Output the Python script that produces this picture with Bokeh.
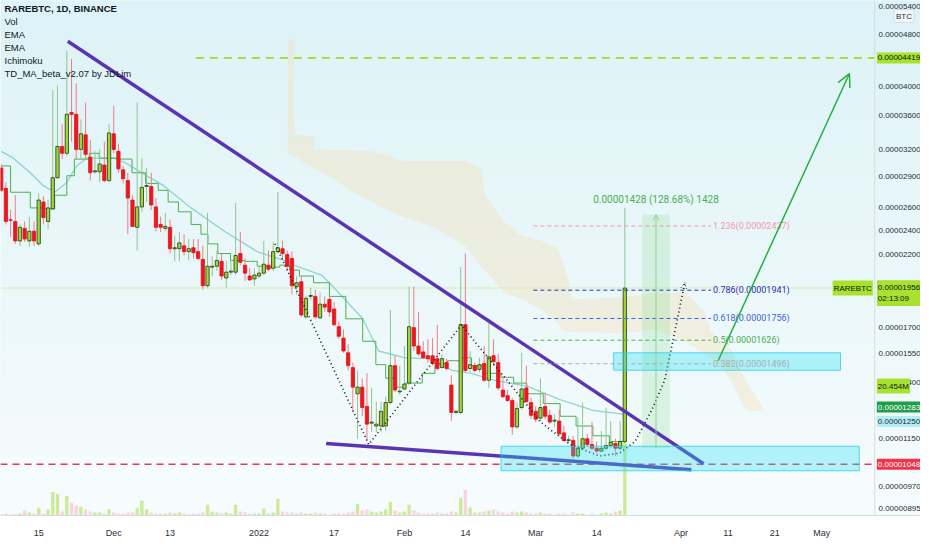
import numpy as np
import pandas as pd
from bokeh.plotting import figure
from bokeh.models import (Range1d, FixedTicker, CustomJSTickFormatter, LinearScale,
                          Label, Span, Arrow, OpenHead, ColumnDataSource)
from bokeh.embed import file_html
from bokeh.resources import INLINE
from bokeh.core.properties import value

SAT = 1e-8
START = "2021-11-07"

# ---------------- candles (satoshi) ----------------
open_sat = [2993, 2784, 2490, 2476, 2311, 2416, 2311, 2392, 2287, 2653, 2476, 2589, 2891, 3229, 3152, 3643,
            3618, 3196, 3365, 3109, 2952, 2952, 3024, 2862, 3377, 3174, 2973, 2862, 2671, 2425, 2607, 2803,
            2803, 2607, 2450, 2416, 2425, 2248, 2248, 2271, 2225, 2256, 2225, 2165, 1972, 2106, 2113, 2150,
            2027, 2069, 2069, 2210, 2121, 2041, 2020, 2041, 2062, 2121, 2098, 2225, 2248, 2202, 2172, 1966,
            2000, 1766, 1899, 1899, 1760, 1847, 1879, 1816, 1706, 1638, 1555, 1476, 1345, 1377, 1286, 1212,
            1200, 1200, 1200, 1304, 1486, 1354, 1368, 1397, 1700, 1593, 1560, 1539, 1539, 1523, 1476, 1502,
            1387, 1259, 1259, 1718, 1471, 1486, 1466, 1497, 1411, 1539, 1502, 1363, 1336, 1313, 1196, 1281,
            1373, 1304, 1264, 1234, 1286, 1246, 1221, 1221, 1171, 1140, 1140, 1079, 1109, 1147, 1124, 1109,
            1098, 1109, 1120, 1128, 1109, 1136]
high_sat = [3035, 2843, 2580, 2717, 2450, 2476, 2519, 2476, 2736, 2708, 2671, 3944, 4012, 3496, 4526, 4404,
            4040, 3556, 3771, 3308, 3174, 3196, 3285, 3496, 3732, 3262, 3014, 2942, 2717, 3771, 3098, 2993,
            2942, 2690, 2519, 2553, 2493, 2351, 2384, 2367, 2327, 2327, 2327, 2271, 2553, 2187, 2233, 2210,
            2157, 2150, 2643, 2384, 2172, 2098, 2098, 2113, 2311, 2233, 2303, 2746, 2311, 2233, 2225, 2041,
            2041, 1905, 1959, 1945, 1925, 1899, 1899, 1860, 1736, 1689, 1604, 1502, 1461, 1421, 1446, 1373,
            1308, 1308, 1331, 1810, 1539, 1486, 1593, 1966, 1966, 1797, 1620, 1632, 1638, 1718, 1549, 1523,
            1436, 1272, 2106, 2210, 1565, 1502, 1528, 1593, 1754, 1632, 1549, 1421, 1363, 1326, 1304, 1555,
            1486, 1326, 1286, 1421, 1349, 1272, 1251, 1272, 1200, 1159, 1159, 1238, 1304, 1167, 1217, 1136,
            1179, 1281, 1221, 1147, 1221, 2598]
low_sat = [2746, 2450, 2343, 2287, 2271, 2303, 2264, 2271, 2271, 2450, 2408, 2580, 2881, 3088, 3119, 3285,
           3088, 3088, 3098, 2862, 2932, 2843, 2843, 2843, 3152, 2942, 2833, 2367, 2425, 2233, 2562, 2653,
           2580, 2392, 2384, 2392, 2210, 2150, 2150, 2195, 2157, 2172, 2157, 1945, 1959, 2041, 2077, 2013,
           1959, 2048, 2048, 2121, 2006, 2006, 1972, 2027, 2048, 2077, 2077, 2210, 2172, 2077, 1912, 1912,
           1766, 1754, 1873, 1754, 1754, 1797, 1766, 1706, 1632, 1555, 1461, 1259, 1147, 1242, 1136, 1175,
           1175, 1175, 1179, 1295, 1354, 1340, 1363, 1387, 1565, 1539, 1523, 1502, 1486, 1461, 1471, 1461,
           1221, 1251, 1251, 1451, 1451, 1451, 1451, 1402, 1373, 1486, 1363, 1326, 1308, 1163, 1188, 1272,
           1304, 1229, 1217, 1221, 1229, 1208, 1196, 1159, 1136, 1128, 1071, 1071, 1101, 1116, 1101, 1090,
           1094, 1101, 1109, 1079, 1101, 1128]
close_sat = [2765, 2476, 2486, 2311, 2425, 2327, 2392, 2311, 2671, 2510, 2598, 2891, 3229, 3152, 3618, 3618,
             3196, 3377, 3141, 2942, 2962, 3035, 2862, 3388, 3196, 2983, 2881, 2690, 2433, 2607, 2794, 2813,
             2625, 2425, 2425, 2433, 2248, 2256, 2295, 2225, 2248, 2217, 2172, 1972, 2113, 2113, 2157, 2041,
             2069, 2077, 2195, 2143, 2062, 2013, 2048, 2062, 2128, 2091, 2225, 2256, 2210, 2113, 1972, 1993,
             1778, 1886, 1905, 1766, 1847, 1828, 1797, 1718, 1649, 1565, 1486, 1377, 1377, 1281, 1208, 1217,
             1208, 1264, 1304, 1486, 1363, 1358, 1392, 1706, 1593, 1549, 1528, 1523, 1497, 1471, 1523, 1471,
             1259, 1264, 1718, 1461, 1491, 1461, 1491, 1411, 1533, 1507, 1373, 1331, 1313, 1196, 1277, 1368,
             1308, 1246, 1229, 1281, 1242, 1217, 1225, 1167, 1140, 1143, 1079, 1109, 1147, 1124, 1109, 1098,
             1109, 1120, 1132, 1109, 1136, 1956]
volume_m = [0.23, 0.31, 0.16, 0.23, 0.31, 0.78, 0.47, 0.31, 1.24, 0.31, 0.93, 3.72, 3.41, 0.62, 3.10, 2.02,
            1.55, 1.40, 0.93, 0.62, 0.47, 0.47, 0.31, 0.93, 0.47, 0.31, 0.31, 0.47, 0.47, 1.24, 2.33, 0.93,
            0.47, 0.31, 0.31, 0.31, 0.47, 0.31, 0.47, 0.31, 0.16, 0.31, 0.31, 0.47, 1.71, 0.62, 0.47, 0.31,
            0.47, 0.31, 1.71, 0.62, 0.47, 0.31, 0.31, 0.31, 1.09, 0.31, 0.47, 2.64, 0.62, 0.47, 0.47, 0.31,
            0.47, 0.31, 0.31, 0.47, 0.31, 0.31, 0.16, 0.31, 0.31, 0.31, 0.47, 0.62, 1.86, 0.78, 0.93, 0.62,
            0.47, 0.62, 0.93, 2.17, 0.78, 0.47, 0.62, 1.71, 0.78, 0.47, 0.31, 0.31, 0.31, 0.47, 0.31, 0.31,
            0.62, 0.47, 2.79, 4.03, 1.24, 0.47, 0.47, 0.62, 0.78, 0.93, 0.62, 0.47, 0.31, 0.62, 0.47, 0.62,
            0.47, 0.31, 0.31, 0.47, 0.31, 0.31, 0.16, 0.31, 0.31, 0.16, 0.47, 0.31, 0.31, 0.16, 0.31, 0.16,
            0.31, 0.47, 0.31, 0.62, 0.78, 20.454]

# ---------------- indicator lines (day offset from START, satoshi) ----------------
ema_day = [0, 2.6, 6.2, 8.9, 11.4, 14.0, 16.1, 18.2, 20.9, 24.1, 26.6, 29.3, 32.1, 34.6, 40.5, 47.6,
           54.6, 60.3, 63.0, 68.3, 70.0, 77.1, 80.5, 86.2, 91.0, 96.1, 100.3, 105.1, 112.1, 119.2, 126.2, 133.0]
ema_sat = [3174, 3098, 2942, 2813, 2746, 2843, 3014, 3098, 3098, 3098, 3045, 2962, 2881, 2813, 2598, 2392,
           2225, 2157, 2113, 2048, 1993, 1754, 1565, 1528, 1523, 1461, 1446, 1411, 1382, 1317, 1268, 1250]
step_day = [0, 2.0, 6.2, 8.7, 11.4, 14.0, 15.6, 18.8, 20.9, 23.6, 25.1, 27.9, 30.8, 33.5, 35.6, 37.8,
            40.5, 42.6, 44.1, 46.2, 48.9, 51.9, 54.6, 57.3, 59.4, 61.5, 63.6, 66.6, 70.0, 73.5, 77.1, 79.9,
            82.0, 84.1, 86.2, 89.8, 92.5, 95.2, 98.2, 100.3, 103.0, 106.6, 109.3, 112.1, 115.6, 119.2, 122.6,
            126.2, 129.7, 133.0]
step_sat = [3014, 2746, 2598, 2589, 2717, 2911, 3088, 3152, 3098, 3098, 3088, 2942, 2833, 2765, 2653, 2562,
            2450, 2367, 2287, 2210, 2157, 2150, 2113, 2106, 2121, 2084, 2041, 1993, 1899, 1754, 1620, 1491,
            1421, 1377, 1397, 1446, 1497, 1512, 1528, 1486, 1446, 1426, 1397, 1345, 1299, 1242, 1200,
            1159, 1136, 1132]
cloud_day = [61.1, 62.4, 62.5, 66.8, 66.9, 70.8, 75.0, 79.0, 83.0, 85.3, 91.0, 95.0, 99.2, 102.4, 103.2,
             107.2, 110.4, 115.2, 118.4, 120.1, 120.9, 121.7, 131.4, 135.4, 139.4, 146.0, 147.4, 150.0,
             151.4, 154.2, 155.6, 158.8, 162.8]
cloud_top_sat = [4718, 4718, 3365, 3342, 3196, 3185, 3185, 3174, 3119, 3066, 3066, 3066, 3066, 2983, 2717,
                 2476, 2367, 2311, 2264, 2106, 2020, 1879, 1892, 1905, 1925, 1925, 1879, 1797, 1677, 1604,
                 1576, 1411, 1268]
cloud_bot_sat = [3152, 3119, 3119, 2983, 2983, 2881, 2746, 2653, 2562, 2519, 2450, 2367, 2264, 2106, 2084,
                 1925, 1892, 1810, 1736, 1677, 1677, 1677, 1666, 1677, 1689, 1620, 1593, 1550, 1523, 1461,
                 1411, 1268, 1264]

# ---------------- drawings ----------------
upper_trend_day = [14.2, 149.8]
upper_trend_sat = [4686, 1050]
lower_trend_day = [69.3, 147.2]
lower_trend_sat = [1128, 1028]
pattern_day = [58.4, 78.4, 98.2, 100.9, 107.9, 115.0, 121.3, 127.6, 131.9, 135.2, 138.8, 141.5, 144.1, 145.8]
pattern_sat = [2287, 1124, 1718, 1620, 1411, 1217, 1124, 1079, 1090, 1136, 1272, 1411, 1736, 1993]
target_sat = 4419
target_start_day = 41.5
support_sat = 1048
last_sat = 1956
zone_day = [[106.6, 183.0], [130.6, 179.0]]
zone_sat = [[1024, 1117], [1462, 1555]]
fib_levels = ["1.236", "0.786", "0.618", "0.5", "0.382"]
fib_sat = [2437, 1941, 1756, 1626, 1496]
fib_colors = ["#ef9aaa", "#2f2fb8", "#3d63e0", "#4caf50", "#a8aeb5"]
fib_day = [113.5, 151.4]
measure_day = [136.7, 142.6]
measure_sat = [1110, 2538]
measure_text = "0.00001428 (128.68%) 1428"
arrow_day = [152.9, 180.9]
arrow_sat = [1512, 4182]
ema_fast_last_sat = 1283

x_tick_dates = ["2021-11-15", "2021-12-01", "2021-12-13", "2022-01-01", "2022-01-17", "2022-02-01",
                "2022-02-14", "2022-03-01", "2022-03-14", "2022-04-01", "2022-04-11", "2022-04-21", "2022-05-01"]
y_ticks_sat = [895, 970, 1150, 1400, 1550, 1700, 1900, 2200, 2400, 2600, 2900, 3200, 3600, 4000, 4800, 5400]
legend_lines = ["RAREBTC, 1D, BINANCE", "Vol", "EMA", "EMA", "Ichimoku", "TD_MA_beta_v2.07 by JDLim"]

# ---------------- helpers ----------------
t0 = pd.Timestamp(START)
DAY_MS = 86400000.0
T0_MS = t0.value / 1e6
FONT = "Liberation Sans"


def ms(d):
    return T0_MS + np.asarray(d, dtype=float) * DAY_MS


def px(v):
    return np.asarray(v, dtype=float) * SAT


W, H = 920, 540
BB = 20
FH = H - BB

x_lo, x_hi = float(ms(-0.15)), float(ms(196.06))
scale_x = float(ms(186.3))          # price-scale separator
y_lo, y_hi = 874 * SAT, 5415 * SAT

p = figure(width=W, height=H, x_axis_type="datetime", y_axis_type="log", y_axis_location=None,
           x_range=Range1d(x_lo, x_hi), y_range=Range1d(y_lo, y_hi),
           output_backend="svg", toolbar_location=None,
           min_border_left=0, min_border_top=0, min_border_right=0, min_border_bottom=BB)
p.outline_line_color = None
p.xgrid.visible = False
p.ygrid.visible = False
p.background_fill_color = "#eaf7f9"
p.border_fill_color = "#ffffff"

# background gradient bands (top cyan -> bottom almost white)
edges = np.geomspace(y_lo, y_hi, 27)
c_bot = np.array([246, 252, 253])
c_top = np.array([221, 243, 247])
band_cols = []
for i in range(len(edges) - 1):
    t = i / (len(edges) - 2)
    cc = (c_bot + (c_top - c_bot) * t).astype(int)
    band_cols.append("#%02x%02x%02x" % tuple(cc))
p.quad(left=x_lo, right=x_hi, bottom=edges[:-1], top=edges[1:] * 1.002, fill_color=band_cols, line_color=None)

# Ichimoku cloud
p.varea(x=ms(cloud_day), y1=px(cloud_bot_sat), y2=px(cloud_top_sat), fill_color="#f3dbac", fill_alpha=0.34)

# volume
dates_ms = ms(np.arange(len(open_sat)))
up = np.array(close_sat) >= np.array(open_sat)
p.extra_y_ranges = {"vol": Range1d(0, 81.4)}
p.extra_y_scales = {"vol": LinearScale()}
p.vbar(x=dates_ms, width=0.72 * DAY_MS, top=volume_m, bottom=0, y_range_name="vol",
       fill_color=["#c9ea93" if u else "#f8d3d9" for u in up], line_color=None, fill_alpha=0.95)

# horizontal levels
p.segment(x0=[x_lo], y0=[last_sat * SAT], x1=[scale_x], y1=[last_sat * SAT], line_color="#d7ecb4", line_width=1)
p.segment(x0=[x_lo], y0=[support_sat * SAT], x1=[scale_x], y1=[support_sat * SAT],
          line_color="#e8384f", line_width=1.6, line_dash="7 5")
p.segment(x0=[float(ms(target_start_day))], y0=[target_sat * SAT], x1=[scale_x], y1=[target_sat * SAT],
          line_color="#a3d92a", line_width=1.6, line_dash="8 6")

# indicator lines
p.line(ms(ema_day), px(ema_sat), line_color="#86d0c8", line_width=1.3, line_alpha=0.9)
p.step(ms(step_day), px(step_sat), mode="after", line_color="#4cb050", line_width=1)

# candles
o, h, l, c = (np.array(a, dtype=float) for a in (open_sat, high_sat, low_sat, close_sat))
p.segment(x0=dates_ms, y0=px(h), x1=dates_ms, y1=px(l),
          line_color=["#8fc58f" if u else "#f07c84" for u in up], line_width=1)
p.vbar(x=dates_ms, width=0.7 * DAY_MS, top=px(np.maximum(o, c)), bottom=px(np.minimum(o, c)),
       fill_color=["#9fd43a" if u else "#f0161e" for u in up],
       line_color=["#1f3a10" if u else "#e0141c" for u in up], line_width=0.8)

# measurement box
p.quad(left=[float(ms(measure_day[0]))], right=[float(ms(measure_day[1]))], bottom=[measure_sat[0] * SAT],
       top=[measure_sat[1] * SAT], fill_color="#7fdc8a", fill_alpha=0.22, line_color=None)
mid = float(ms((measure_day[0] + measure_day[1]) / 2))
p.add_layout(Arrow(end=OpenHead(size=6, line_color="#8fd19a", line_width=1),
                   x_start=mid, y_start=measure_sat[0] * SAT,
                   x_end=mid, y_end=measure_sat[1] * SAT, line_color="#8fd19a", line_width=1))
p.add_layout(Label(x=mid, y=measure_sat[1] * SAT, y_offset=9, text=measure_text,
                   text_align="center", text_baseline="bottom", text_color="#4caf50",
                   text_font_size="10px", text_font="Roboto"))

# dotted pattern
p.line(ms(pattern_day), px(pattern_sat), line_color="#1b1b1b", line_width=1.7, line_dash="1 3")
p.add_layout(Arrow(end=OpenHead(size=6, line_color="#1b1b1b", line_width=1, line_dash="1 2"),
                   x_start=float(ms(pattern_day[-2])), y_start=pattern_sat[-2] * SAT,
                   x_end=float(ms(pattern_day[-1])), y_end=pattern_sat[-1] * SAT, line_alpha=0))

# trend lines
p.line(ms(upper_trend_day), px(upper_trend_sat), line_color="#5b34b4", line_width=3.5)
p.line(ms(lower_trend_day), px(lower_trend_sat), line_color="#5b34b4", line_width=3.5)

# cyan zones
for zd, zs in zip(zone_day, zone_sat):
    p.quad(left=[float(ms(zd[0]))], right=[float(ms(zd[1]))], bottom=[zs[0] * SAT], top=[zs[1] * SAT],
           fill_color="#1fe0f0", fill_alpha=0.32, line_color="#2fd0e6", line_width=1, line_alpha=0.8)

# fib levels
fsrc = ColumnDataSource(dict(x0=[float(ms(fib_day[0]))] * 5, x1=[float(ms(fib_day[1]))] * 5,
                             y=list(px(fib_sat)), col=fib_colors,
                             tx=[float(ms(fib_day[1] + 0.4))] * 5,
                             txt=["%s(%.8f)" % (lv, v * SAT) for lv, v in zip(fib_levels, fib_sat)]))
p.segment(x0="x0", y0="y", x1="x1", y1="y", line_color="col", line_dash="4 3", line_width=1, source=fsrc)
p.text(x="tx", y="y", text="txt", text_color="col", text_font_size="9px", text_baseline="middle",
       text_font=value("Roboto"), source=fsrc)

# green projection arrow
p.add_layout(Arrow(end=OpenHead(size=13, line_color="#25b03f", line_width=1.5),
                   x_start=float(ms(arrow_day[0])), y_start=arrow_sat[0] * SAT,
                   x_end=float(ms(arrow_day[1])), y_end=arrow_sat[1] * SAT,
                   line_color="#25b03f", line_width=1.5))

# legend text
for i, t in enumerate(legend_lines):
    p.add_layout(Label(x=4, y=FH - 7 - 13 * i, x_units="screen", y_units="screen", text=t,
                       text_baseline="top", text_color="#131722", text_font_size="9.5px",
                       text_font=FONT, text_font_style="bold" if i == 0 else "normal"))

# ---------------- price scale (drawn inside the frame, right of the separator) ----------------
p.add_layout(Span(location=scale_x, dimension="height", line_color="#d5dde2", line_width=1))
tick_src = ColumnDataSource(dict(x=[float(ms(187.1))] * len(y_ticks_sat), y=list(px(y_ticks_sat)),
                                 txt=["%.8f" % (v * SAT) for v in y_ticks_sat],
                                 dy=[5 if v == max(y_ticks_sat) else 0 for v in y_ticks_sat]))
p.text(x="x", y="y", text="txt", y_offset="dy", text_font_size="8px", text_font=value(FONT),
       text_baseline="middle", text_color="#2a2e39", source=tick_src)

xt = [pd.Timestamp(d).value / 1e6 for d in x_tick_dates]
p.xaxis.ticker = FixedTicker(ticks=xt)
p.xaxis.formatter = CustomJSTickFormatter(code="""
const d = new Date(tick);
const m = d.getUTCMonth(), day = d.getUTCDate();
const names = ['Jan','Feb','Mar','Apr','May','Jun','Jul','Aug','Sep','Oct','Nov','Dec'];
if (day === 1) { return m === 0 ? String(d.getUTCFullYear()) : names[m]; }
return String(day);
""")
p.xaxis.major_label_text_font_size = "9px"
p.xaxis.major_label_text_font = FONT
p.xaxis.major_label_text_color = "#2a2e39"
p.xaxis.major_label_standoff = 6
p.xaxis.major_tick_line_color = None
p.xaxis.minor_tick_line_color = None
p.xaxis.axis_line_color = "#d5dde2"

BADGE_X = float(ms(186.75))


def badge(price, text, bg, fg, y_offset=0, x=BADGE_X, align="left", y_range_name="default"):
    p.add_layout(Label(x=x, y=price, y_offset=y_offset, y_range_name=y_range_name, text=text,
                       text_align=align, text_baseline="middle", text_color=fg, text_font_size="8px",
                       text_font=FONT, background_fill_color=bg, padding=(1, 3)))


badge(target_sat * SAT, "%.8f" % (target_sat * SAT), "#a6e22e", "#111111")
badge(last_sat * SAT, "%.8f\n02:13:09" % (last_sat * SAT), "#a6e22e", "#111111", y_offset=-5)
badge(last_sat * SAT, "RAREBTC", "#a6e22e", "#111111", x=float(ms(185.9)), align="right")
badge(volume_m[-1], "%.3fM" % volume_m[-1], "#a6e22e", "#111111", y_range_name="vol")
badge(ema_fast_last_sat * SAT, "%.8f" % (ema_fast_last_sat * SAT), "#1f9e47", "#ffffff")
badge(ema_sat[-1] * SAT, "%.8f" % (ema_sat[-1] * SAT), "#b4ecf3", "#1a2a33", y_offset=-7)
badge(support_sat * SAT, "%.8f" % (support_sat * SAT), "#f0344a", "#ffffff")
p.add_layout(Label(x=float(ms(190.4)), y=FH - 14, y_units="screen", text="BTC",
                   text_baseline="top", text_color="#2a2e39", text_font_size="8px",
                   text_font=FONT, background_fill_color="#f4f6f8", border_line_color="#d5dde2",
                   padding=2))

open("out.html", "w").write(file_html(p, INLINE))
